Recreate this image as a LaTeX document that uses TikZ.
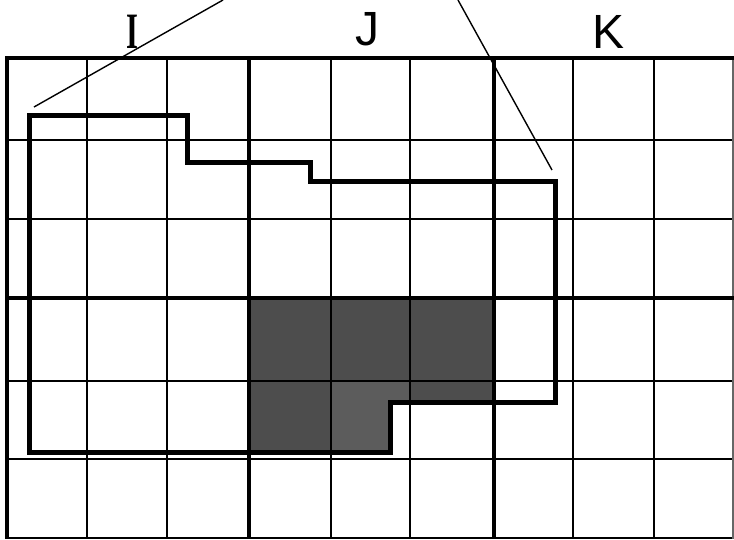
\documentclass[tikz,border=0pt]{standalone}
\usepackage{fontspec}
\newfontfamily\lsans{Liberation Sans}
\newfontfamily\lserifb{Liberation Serif Bold}
\definecolor{darkcell}{RGB}{77,77,77}
\definecolor{midcell}{RGB}{92,92,92}
\tikzset{
  thin grid/.style={line width=2.9pt},
  thick grid/.style={line width=4.4pt},
  outline/.style={line width=5pt, line join=miter},
  pointer/.style={line width=1.4pt},
  lab/.style={font=\lsans\fontsize{48}{48}\selectfont, anchor=base, inner sep=0pt},
  labserif/.style={font=\lserifb\fontsize{51}{51}\selectfont, anchor=base, inner sep=0pt, xscale=0.6},
}
\begin{document}
\begin{tikzpicture}[x=1pt,y=-1pt]
\useasboundingbox (0,0) rectangle (734,539);
\fill[white] (0,0) rectangle (734,539);
% gray cells
\fill[darkcell] (249,298) rectangle (494,381);
\fill[darkcell] (249,381) rectangle (331,452);
\fill[darkcell] (410,381) rectangle (494,402);
\fill[midcell] (331,381) -- (410,381) -- (410,402) -- (390,402) -- (390,452) -- (331,452) -- cycle;
% thin grid lines
\foreach \y in {140,219,381,459,538}
  \draw[thin grid] (7,\y) -- (734,\y);
\foreach \x in {87,167,331,410,573,654}
  \draw[thin grid] (\x,58) -- (\x,539);
\draw[line width=1.5pt, black!60] (733,58) -- (733,539);
% thick grid lines
\draw[thick grid] (5,58) -- (734,58);
\draw[thick grid] (7,298) -- (734,298);
\foreach \x in {7,249,494}
  \draw[thick grid] (\x,56) -- (\x,539);
% outline
\draw[outline] (29,115) -- (187,115) -- (187,162) -- (310,162) -- (310,181)
  -- (555,181) -- (555,402) -- (390,402) -- (390,452) -- (29,452) -- cycle;
% pointer lines
\coordinate (p1a) at (34,107);
\coordinate (p1b) at (223,0);
\coordinate (p2a) at (458,0);
\coordinate (p2b) at (552,170);
\draw[pointer] (p1a) -- (p1b);
\draw[pointer] (p2a) -- (p2b);
% labels
\node[labserif] (labI) at (132,48) {I};
\node[lab] (labJ) at (367,45) {J};
\node[lab] (labK) at (609,48) {K};
\end{tikzpicture}
\end{document}
